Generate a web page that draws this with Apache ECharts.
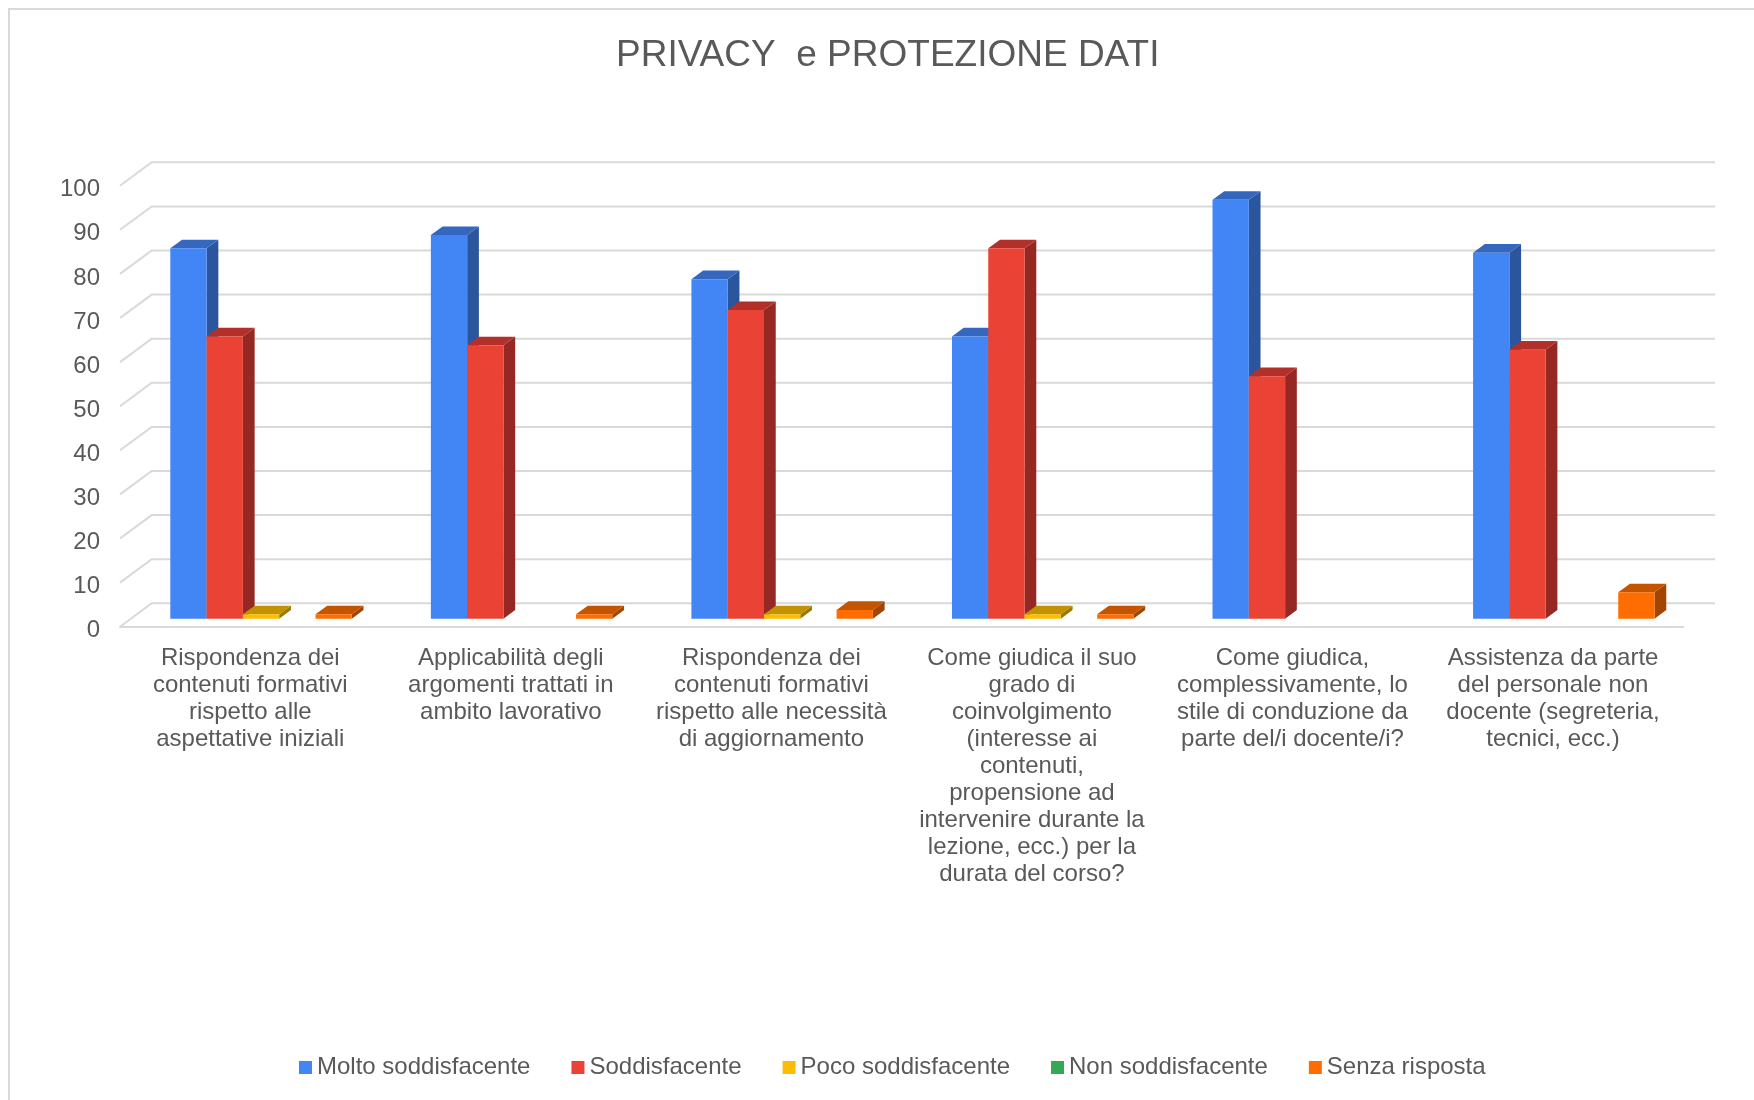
<!DOCTYPE html>
<html><head><meta charset="utf-8">
<script src="https://cdn.jsdelivr.net/npm/echarts@6/dist/echarts.min.js"></script>
<style>html,body{margin:0;padding:0;background:#fff}#c{width:1754px;height:1100px}</style>
</head><body><div id="c"></div>
<script>
const chartTitle = 'PRIVACY  e PROTEZIONE DATI';
const categories = [
  'Rispondenza dei\ncontenuti formativi\nrispetto alle\naspettative iniziali',
  'Applicabilità degli\nargomenti trattati in\nambito lavorativo',
  'Rispondenza dei\ncontenuti formativi\nrispetto alle necessità\ndi aggiornamento',
  'Come giudica il suo\ngrado di\ncoinvolgimento\n(interesse ai\ncontenuti,\npropensione ad\nintervenire durante la\nlezione, ecc.) per la\ndurata del corso?',
  'Come giudica,\ncomplessivamente, lo\nstile di conduzione da\nparte del/i docente/i?',
  'Assistenza da parte\ndel personale non\ndocente (segreteria,\ntecnici, ecc.)'
];
const seriesNames = ['Molto soddisfacente', 'Soddisfacente', 'Poco soddisfacente', 'Non soddisfacente', 'Senza risposta'];
const moltoSoddisfacente = [84, 87, 77, 64, 95, 83];
const soddisfacente      = [64, 62, 70, 84, 55, 61];
const pocoSoddisfacente  = [1, 0, 1, 1, 0, 0];
const nonSoddisfacente   = [0, 0, 0, 0, 0, 0];
const senzaRisposta      = [1, 1, 2, 1, 0, 6];
const yTicks = [0, 10, 20, 30, 40, 50, 60, 70, 80, 90, 100];

const seriesValues = [moltoSoddisfacente, soddisfacente, pocoSoddisfacente, nonSoddisfacente, senzaRisposta];
const palette = [
  {front: '#4285F4', top: '#3567BE', side: '#2B569E'},
  {front: '#EA4335', top: '#B3302A', side: '#962823'},
  {front: '#FBBC04', top: '#C29200', side: '#9E7800'},
  {front: '#34A853', top: '#28813F', side: '#1F6A33'},
  {front: '#FF6D01', top: '#C45500', side: '#A14500'}
];
const FONT = '"Liberation Sans", Arial, sans-serif';
const TXT = '#595959';
const GRID_C = '#D9D9D9';
const DX = 31.7, DY = -23.4, F0 = 0.34, F1 = 0.71, BW = 0.1393;

function barRender(sIdx) {
  const col = palette[sIdx];
  return function (params, api) {
    const ci = api.value(0), v = api.value(1);
    if (!v) return null;
    const base = api.coord([ci, 0]);
    const top = api.coord([ci, v]);
    const catW = api.size([1, 0])[0];
    const bw = catW * BW;
    const x0 = base[0] - 2.5 * bw + sIdx * bw + F0 * DX;
    const yb = base[1] + F0 * DY, yt = top[1] + F0 * DY;
    const dx = (F1 - F0) * DX, dy = (F1 - F0) * DY;
    return {type: 'group', children: [
      {type: 'polygon', shape: {points: [[x0 + bw, yt], [x0 + bw + dx, yt + dy], [x0 + bw + dx, yb + dy], [x0 + bw, yb]]}, style: {fill: col.side}},
      {type: 'polygon', shape: {points: [[x0, yt], [x0 + bw, yt], [x0 + bw + dx, yt + dy], [x0 + dx, yt + dy]]}, style: {fill: col.top}},
      {type: 'rect', shape: {x: x0, y: yt, width: bw, height: yb - yt}, style: {fill: col.front}}
    ]};
  };
}

function wallRender(params, api) {
  const v = api.value(1);
  const p = api.coord([0, v]);
  const cs = params.coordSys;
  const left = cs.x, right = cs.x + cs.width;
  return {type: 'polyline', shape: {points: [[left, p[1]], [left + DX, p[1] + DY], [right + DX, p[1] + DY]]},
    style: {stroke: GRID_C, lineWidth: 2, fill: null}};
}

const series = [{
  type: 'custom', name: '_wall', renderItem: wallRender, z: 1, silent: true,
  data: yTicks.map(t => [0, t])
}];
seriesNames.forEach((name, i) => {
  series.push({
    type: 'custom', name: name, z: 2 + i,
    itemStyle: {color: palette[i].front},
    renderItem: barRender(i),
    data: seriesValues[i].map((v, ci) => [ci, v])
  });
});

const chart = echarts.init(document.getElementById('c'));
chart.setOption({
  animation: false,
  backgroundColor: '#fff',
  title: {text: chartTitle, left: 611, top: 32,
    textStyle: {fontFamily: FONT, fontSize: 37, fontWeight: 'normal', color: TXT}},
  graphic: [{type: 'rect', shape: {x: 9, y: 9, width: 2000, height: 2000},
    style: {fill: null, stroke: GRID_C, lineWidth: 2}, silent: true}],
  legend: {
    data: seriesNames, left: 299, top: 1055.5, padding: 0, icon: 'rect', itemWidth: 13, itemHeight: 13, itemGap: 41,
    textStyle: {fontFamily: FONT, fontSize: 24, color: TXT}, selectedMode: false
  },
  grid: {left: 120, right: 70.7, top: 185.7, bottom: 473.3},
  xAxis: {
    type: 'category', data: categories,
    axisLine: {show: true, lineStyle: {color: GRID_C, width: 2}},
    axisTick: {show: false},
    axisLabel: {interval: 0, fontFamily: FONT, fontSize: 24, lineHeight: 27, color: TXT, margin: 18}
  },
  yAxis: {
    type: 'value', min: 0, max: 100, interval: 10,
    axisLine: {show: false}, axisTick: {show: false}, splitLine: {show: false},
    axisLabel: {
      margin: 20,
      formatter: function (v) { return '{t|' + v + '}'; },
      rich: {t: {fontFamily: FONT, fontSize: 24, color: TXT, padding: [8, 0, 0, 0]}}
    }
  },
  series: series
});
</script>
</body></html>
